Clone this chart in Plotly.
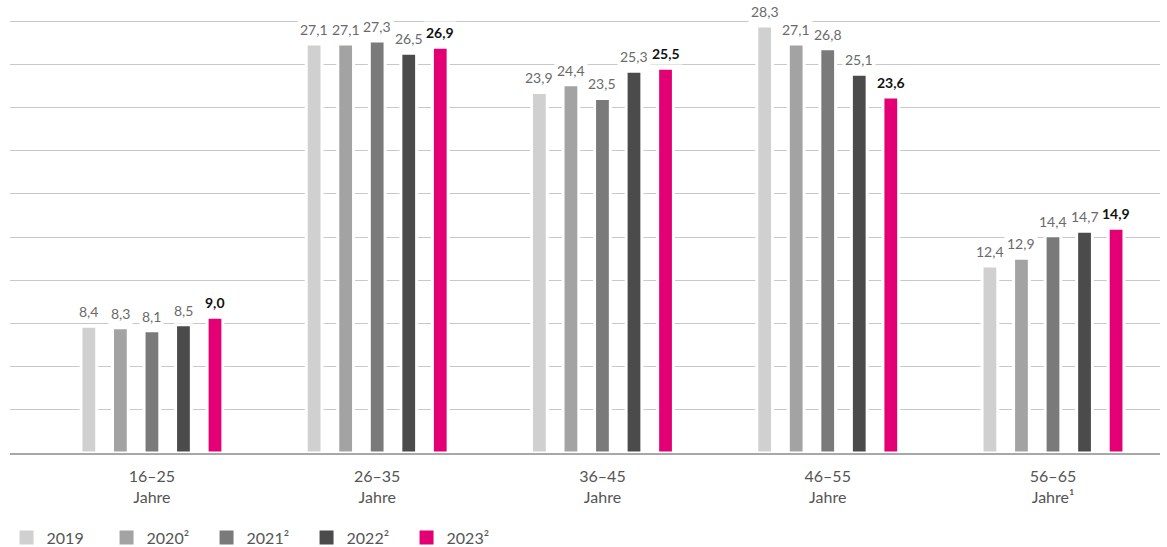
import plotly.graph_objects as go

groups = ["16–25<br>Jahre", "26–35<br>Jahre", "36–45<br>Jahre", "46–55<br>Jahre", "56–65<br>Jahre¹"]
years = ["2019", "2020²", "2021²", "2022²", "2023²"]
v2019 = [8.4, 27.1, 23.9, 28.3, 12.4]
v2020 = [8.3, 27.1, 24.4, 27.1, 12.9]
v2021 = [8.1, 27.3, 23.5, 26.8, 14.4]
v2022 = [8.5, 26.5, 25.3, 25.1, 14.7]
v2023 = [9.0, 26.9, 25.5, 23.6, 14.9]
series = [v2019, v2020, v2021, v2022, v2023]
colors = ["#d0d0d0", "#a3a3a3", "#7a7a7a", "#4b4b4b", "#e20074"]

FONT = "Lato"
xpos = list(range(len(groups)))
bargap = 0.30
slot = (1 - bargap) / len(years)

fig = go.Figure()
for name, vals, col in zip(years, series, colors):
    fig.add_trace(go.Bar(
        x=xpos, y=vals, name=name, showlegend=False,
        marker=dict(color=col, line=dict(color="white", width=3)),
        hoverinfo="skip",
    ))
# legend entries (square swatches)
for name, col in zip(years, colors):
    fig.add_trace(go.Scatter(
        x=[None], y=[None], name=name, mode="markers",
        marker=dict(symbol="square", size=14, color=col),
        showlegend=True, hoverinfo="skip",
    ))

annotations = []
for i, (vals, name) in enumerate(zip(series, years)):
    last = i == len(years) - 1
    for j, v in enumerate(vals):
        annotations.append(dict(
            x=j + (i - (len(years) - 1) / 2) * slot, y=v,
            xref="x", yref="y",
            text=(f"<b>{v:.1f}</b>" if last else f"{v:.1f}").replace(".", ","),
            showarrow=False, yanchor="bottom", yshift=3,
            bgcolor="white", borderpad=2,
            font=dict(family=FONT, size=14, color="#111111" if last else "#6a6a6a"),
        ))

step = 2.863
fig.update_layout(
    width=1167, height=547,
    margin=dict(l=10, r=7, t=8, b=94, autoexpand=False),
    paper_bgcolor="white", plot_bgcolor="white",
    barmode="group", bargap=bargap, bargroupgap=0.5,
    font=dict(family=FONT, size=15, color="#555555"),
    xaxis=dict(
        range=[-0.63, 4.475], tickvals=xpos, ticktext=groups,
        showgrid=False, zeroline=False, showline=True,
        linecolor="#a8a8a8", linewidth=2, layer="above traces",
        ticks="outside", ticklen=8, tickcolor="rgba(0,0,0,0)",
        tickfont=dict(family=FONT, size=16, color="#555555"),
        automargin=False,
    ),
    yaxis=dict(
        range=[0, 443 / 15.02], tickvals=[k * step for k in range(1, 11)],
        showticklabels=False, showgrid=True, gridcolor="#c8c8c8", gridwidth=1,
        zeroline=False, automargin=False,
    ),
    legend=dict(
        orientation="h", x=-0.003, xanchor="left", y=-0.152, yanchor="top",
        font=dict(family=FONT, size=16, color="#555555"),
        entrywidth=55, traceorder="normal",
    ),
    annotations=annotations,
    showlegend=True,
)

fig.write_html("out.html")
